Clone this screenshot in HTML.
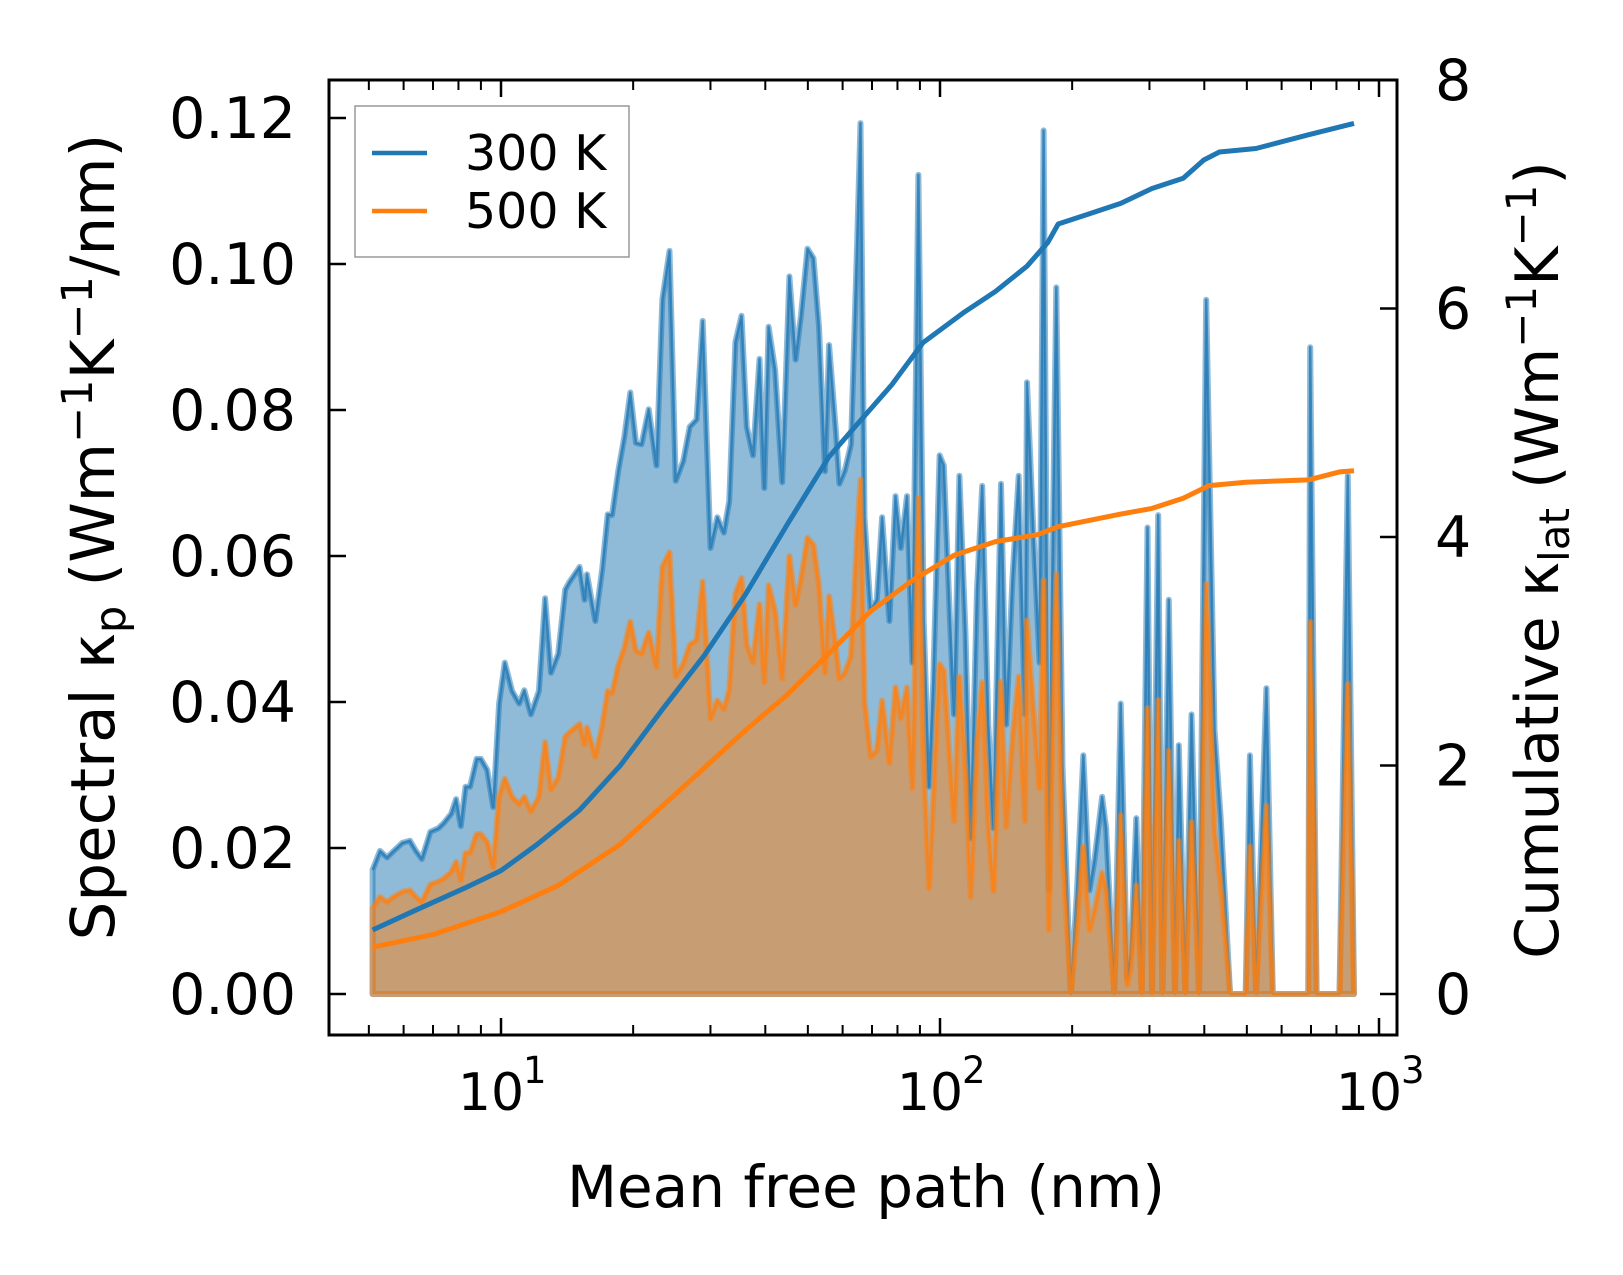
<!DOCTYPE html>
<html><head><meta charset="utf-8">
<style>
html,body{margin:0;padding:0;background:#fff;}
svg{display:block;font-family:"DejaVu Sans","Liberation Sans",sans-serif;}
</style></head>
<body>
<svg id="chart" width="1623" height="1275" viewBox="0 0 1623 1275">
<rect x="0" y="0" width="1623" height="1275" fill="#fff"/>
<g id="plot"></g>
<g id="axes"></g>
<g>
<rect x="355" y="106" width="274" height="151" fill="#fff" fill-opacity="0.8" stroke="#999" stroke-width="1.5"/>
<line x1="372" y1="153" x2="427" y2="153" stroke="#1f77b4" stroke-width="4.5"/>
<text x="465" y="170" font-size="49">300 K</text>
<line x1="372" y1="211" x2="427" y2="211" stroke="#ff7f0e" stroke-width="4.5"/>
<text x="465" y="228" font-size="49">500 K</text>
</g>
<text x="866" y="1207" font-size="58" text-anchor="middle">Mean free path (nm)</text>
<text transform="translate(114,537) rotate(-90)" font-size="61" text-anchor="middle">Spectral κ<tspan font-size="43" dy="11">p</tspan><tspan dy="-11"> (Wm</tspan><tspan font-size="43" dy="-22">−1</tspan><tspan dy="22">K</tspan><tspan font-size="43" dy="-22">−1</tspan><tspan dy="22">/nm)</tspan></text>
<text transform="translate(1558,560) rotate(-90)" font-size="60" text-anchor="middle">Cumulative κ<tspan font-size="42" dy="11">lat</tspan><tspan dy="-11"> (Wm</tspan><tspan font-size="42" dy="-22">−1</tspan><tspan dy="22">K</tspan><tspan font-size="42" dy="-22">−1</tspan><tspan dy="22">)</tspan></text>
</svg>
<script>
const mfp = [5.1,5.3,5.5,5.7,5.96,6.2,6.4,6.6,6.9,7.2,7.4,7.7,7.9,8.1,8.3,8.5,8.8,9.0,9.3,9.6,9.9,10.2,10.6,11.0,11.3,11.7,12.2,12.6,13.0,13.5,14.0,14.3,15.1,15.5,15.7,16.4,17.0,17.5,17.9,18.5,19.1,19.7,20.3,20.9,21.7,22.6,23.3,24.2,25.0,26.0,26.9,27.9,28.8,30.0,31.1,32.2,33.1,34.2,35.3,36.3,37.5,38.8,39.8,40.7,42.1,43.7,45.4,46.9,48.2,49.9,51.5,53.0,54.7,55.9,58.0,59.0,60.7,62.7,64.8,65.9,67.3,69.5,71.8,73.8,76.7,79.2,81.4,84.1,86.5,89.3,91.8,94.4,96.5,99.8,102,105.4,107.7,110.7,114.3,117.5,121.4,124.8,128.8,132.4,137.7,141.5,146.2,151.1,156.1,157.8,163.0,168.6,172.2,177.0,179.9,184.0,190.1,198.6,205.2,212,219,225,234,239,249.5,258,267,272,280,288,297,304,314,321,332,343,350,362,374,389,404,422,436,458,497,508,525,554,573,598,690,697,721,813,849,877];
const spec300 = [.017,.0196,.0187,.0196,.0207,.021,.0196,.0185,.0222,.0227,.0234,.0247,.0267,.023,.0284,.0284,.0322,.0322,.0307,.0256,.0398,.0454,.0415,.0398,.0416,.0383,.0415,.0542,.044,.0466,.0554,.0564,.0585,.054,.0575,.0511,.0582,.0657,.0656,.0717,.0764,.0824,.0755,.0753,.0801,.0724,.0951,.1018,.0703,.073,.0777,.0787,.0922,.0611,.0653,.0632,.0675,.0893,.0929,.0777,.0738,.087,.0693,.0914,.0855,.0701,.0983,.0869,.0929,.1021,.1008,.0914,.0716,.0889,.0767,.0699,.0717,.0753,.1037,.1193,.0653,.0525,.054,.0653,.0511,.0682,.0611,.0682,.0454,.1122,.0511,.0284,.0426,.0738,.0724,.0511,.0383,.071,.0494,.0213,.0554,.0696,.0369,.0227,.0699,.0369,.0568,.071,.0383,.0838,.0639,.0454,.1183,.0142,.054,.0968,.0312,0,.0142,.0327,.0142,.0185,.027,.0227,0,.0398,.0021,.0057,.0241,0,.0639,0,.0656,0,.054,0,.0341,0,.0383,0,.0951,.0362,.0241,0,0,.0327,0,.0419,0,0,0,.0886,0,0,.071,0];
const spec500 = [.0117,.0133,.0126,.0133,.014,.0142,.0133,.0126,.015,.0154,.0158,.0167,.0181,.0156,.0193,.0193,.0219,.0219,.0208,.0174,.027,.0295,.027,.026,.027,.025,.027,.0345,.028,.0296,.0352,.0358,.037,.0342,.0365,.0325,.0368,.0415,.0412,.045,.0475,.051,.047,.0466,.0495,.0448,.0585,.0605,.0435,.0452,.0478,.0485,.0565,.0377,.0402,.039,.0416,.0548,.057,.0478,.0455,.0534,.0427,.056,.0525,.0432,.06,.0533,.0568,.0625,.0615,.056,.044,.0545,.0472,.0432,.044,.0463,.0633,.0705,.0402,.0325,.0333,.0402,.0317,.042,.0378,.042,.0282,.068,.0317,.0145,.0265,.0452,.0443,.0317,.0237,.0435,.0305,.0133,.0342,.0427,.0229,.0141,.0428,.0229,.035,.0435,.0237,.0512,.0393,.0282,.0567,.0088,.0333,.0575,.0194,0,.0088,.0202,.0088,.0115,.0166,.014,0,.0245,.0013,.0035,.0149,0,.0392,0,.0403,0,.0333,0,.021,0,.0236,0,.0562,.0224,.0149,0,0,.0202,0,.0258,0,0,0,.051,0,0,.0425,0];
const cumMfp300 = [5.1,6.28,8.3,10,12.1,15.1,18.7,23.3,29.0,36.1,44.9,55.8,65.9,77.6,91.4,113.8,133.8,157.8,176.2,185.9,219,258,304,358,399,433,525,690,836,877];
const cum300 = [0.56,0.72,0.93,1.08,1.31,1.61,2.0,2.49,2.96,3.5,4.11,4.7,5.02,5.33,5.7,5.97,6.15,6.37,6.58,6.74,6.83,6.92,7.05,7.14,7.3,7.37,7.4,7.52,7.6,7.62];
const cumMfp500 = [5.1,7.0,10,13.5,18.7,26.0,36.1,44.9,55.8,69.5,86.5,107.7,133.8,166.7,185.9,258,304,358,410,497,690,813,877];
const cum500 = [0.41,0.52,0.72,0.95,1.31,1.81,2.31,2.62,2.98,3.35,3.62,3.84,3.96,4.02,4.09,4.2,4.25,4.34,4.45,4.48,4.5,4.57,4.58];
const yLeftTicks = ["0.00","0.02","0.04","0.06","0.08","0.10","0.12"];
const yRightTicks = ["0","2","4","6","8"];
const xMajor = [10,100,1000];
const xExp = ["1","2","3"];

const NS='http://www.w3.org/2000/svg';
const L=329,R=1397,T=80,B=1035;
function xs(v){return 501+(Math.log10(v)-1)*439;}
function yl(v){return 994-v*7300;}
function yr(v){return 994-v*114.25;}
function mk(tag,attrs,parent){const e=document.createElementNS(NS,tag);for(const k in attrs)e.setAttribute(k,attrs[k]);parent.appendChild(e);return e;}
const plot=document.getElementById('plot');
const axes=document.getElementById('axes');

function area(vals,color,name){
  const n=Math.min(mfp.length,vals.length);
  let pts=[];
  for(let i=0;i<n;i++)pts.push(xs(mfp[i]).toFixed(1)+','+yl(vals[i]).toFixed(1));
  const poly=xs(mfp[0]).toFixed(1)+','+yl(0)+' '+pts.join(' ')+' '+xs(mfp[n-1]).toFixed(1)+','+yl(0);
  const f=mk('polygon',{points:poly,fill:color,'fill-opacity':0.5,stroke:color,'stroke-opacity':0.5,'stroke-width':6,'stroke-linejoin':'round'},plot);
  
  
  const l=mk('polyline',{points:pts.join(' '),fill:'none',stroke:color,'stroke-opacity':0.75,'stroke-width':2.5,'stroke-linejoin':'round'},plot);
  
  
}
area(spec300,'#1f77b4','spectral-300k');
area(spec500,'#ff7f0e','spectral-500k');
function cum(xv,yv,color,name){
  const n=Math.min(xv.length,yv.length);let pts=[];
  for(let i=0;i<n;i++)pts.push(xs(xv[i]).toFixed(1)+','+yr(yv[i]).toFixed(1));
  const l=mk('polyline',{points:pts.join(' '),fill:'none',stroke:color,'stroke-width':5,'stroke-linejoin':'round'},plot);
  
  
}
cum(cumMfp300,cum300,'#1f77b4','cumulative-300k');
cum(cumMfp500,cum500,'#ff7f0e','cumulative-500k');

const fr=mk('rect',{x:L,y:T,width:R-L,height:B-T,fill:'none',stroke:'#000','stroke-width':3},axes);


yLeftTicks.forEach(function(t){
  const y=yl(parseFloat(t));
  const tk=mk('line',{x1:L,y1:y,x2:L+17,y2:y,stroke:'#000','stroke-width':2.5},axes);
  
  
  const tx=mk('text',{x:L-33,y:y+20,'font-size':57,'text-anchor':'end'},axes);
  tx.textContent=t;
  
  
});
yRightTicks.forEach(function(t){
  const y=yr(parseFloat(t));
  const tk=mk('line',{x1:R,y1:y,x2:R-17,y2:y,stroke:'#000','stroke-width':2.5},axes);
  
  
  const tx=mk('text',{x:R+38,y:y+20,'font-size':57},axes);
  tx.textContent=t;
  
  
});
for(let d=1;d<=1000;d*=10){
  for(let m=1;m<10;m++){
    const v=d*m; if(v<4.3||v>1000)continue;
    const x=xs(v); if(x<L||x>R)continue;
    const major=(m===1);const len=major?17:10;
    [[B,B-len],[T,T+len]].forEach(function(p){
      const tk=mk('line',{x1:x,y1:p[0],x2:x,y2:p[1],stroke:'#000','stroke-width':major?2.5:2},axes);
      
      
    });
  }
}
xMajor.forEach(function(v,i){
  const x=xs(v);
  const tx=mk('text',{x:x-10,y:1110,'font-size':52,'text-anchor':'middle'},axes);
  tx.textContent='10';
  
  
  const ex=mk('text',{x:x+22,y:1083,'font-size':37},axes);
  ex.textContent=xExp[i];
  
  
});
</script>
</body></html>
